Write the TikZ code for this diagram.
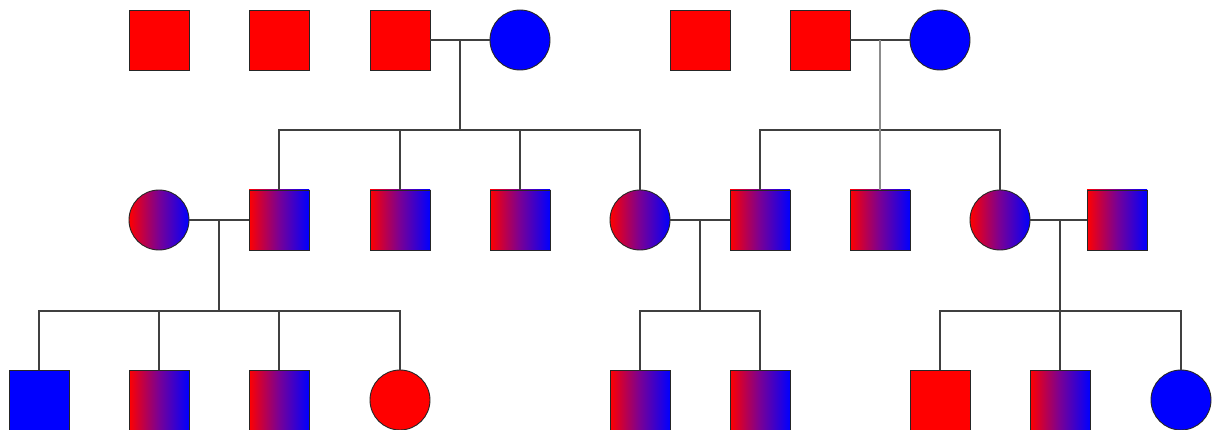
\documentclass[tikz,border=0pt]{standalone}
\begin{document}
\begin{tikzpicture}[x=1pt,y=-1pt,
  base/.style={draw=black!85,line width=0.9pt,inner sep=0pt,minimum size=60pt},
  sq/.style={base,rectangle},
  ci/.style={base,circle},
  red/.style={fill={rgb,255:red,255;green,0;blue,0}},
  blu/.style={fill={rgb,255:red,0;green,0;blue,255}},
  grad/.style={left color={rgb,255:red,255;green,0;blue,0},right color={rgb,255:red,0;green,0;blue,255},middle color={rgb,255:red,120;green,0;blue,150}},
  link/.style={draw=black!75,line width=1.4pt},
  glink/.style={draw=black!45,line width=1.6pt}]
\useasboundingbox (0,0) rectangle (1213,430);
% row 1
\node[sq,red] (a1) at (159,40) {};
\node[sq,red] (a2) at (279,40) {};
\node[sq,red] (a3) at (400,40) {};
\node[ci,blu] (a4) at (520,40) {};
\node[sq,red] (a5) at (700,40) {};
\node[sq,red] (a6) at (820,40) {};
\node[ci,blu] (a7) at (940,40) {};
% row 2
\node[ci,grad] (b1) at (159,220) {};
\node[sq,grad] (b2) at (279,220) {};
\node[sq,grad] (b3) at (400,220) {};
\node[sq,grad] (b4) at (520,220) {};
\node[ci,grad] (b5) at (640,220) {};
\node[sq,grad] (b6) at (760,220) {};
\node[sq,grad] (b7) at (880,220) {};
\node[ci,grad] (b8) at (1000,220) {};
\node[sq,grad] (b9) at (1117,220) {};
% row 3
\node[sq,blu] (c1) at (39,400) {};
\node[sq,grad] (c2) at (159,400) {};
\node[sq,grad] (c3) at (279,400) {};
\node[ci,red] (c4) at (400,400) {};
\node[sq,grad] (c5) at (640,400) {};
\node[sq,grad] (c6) at (760,400) {};
\node[sq,red] (c7) at (940,400) {};
\node[sq,grad] (c8) at (1060,400) {};
\node[ci,blu] (c9) at (1181,400) {};
% coordinates
\coordinate (m1) at (460,40);
\coordinate (s1) at (460,130);
\coordinate (m2) at (880,40);
\coordinate (s2) at (880,130);
\coordinate (m3) at (219,220);
\coordinate (s3) at (219,311);
\coordinate (m4) at (700,220);
\coordinate (s4) at (700,311);
\coordinate (m5) at (1060,220);
\coordinate (s5) at (1060,311);
% family 1
\draw[link] (a3.east) -- (a4.west);
\draw[link] (m1) -- (s1);
\draw[link] (s1) -| (b2.north);
\draw[link] (s1) -| (b3.north);
\draw[link] (s1) -| (b4.north);
\draw[link] (s1) -| (b5.north);
% family 2
\draw[link] (a6.east) -- (a7.west);
\draw[link] (s2) -| (b6.north);
\draw[link] (s2) -| (b8.north);
\draw[glink] (m2) -- (b7.north);
% family 3
\draw[link] (b1.east) -- (b2.west);
\draw[link] (m3) -- (s3);
\draw[link] (s3) -| (c1.north);
\draw[link] (s3) -| (c2.north);
\draw[link] (s3) -| (c3.north);
\draw[link] (s3) -| (c4.north);
% family 4
\draw[link] (b5.east) -- (b6.west);
\draw[link] (m4) -- (s4);
\draw[link] (s4) -| (c5.north);
\draw[link] (s4) -| (c6.north);
% family 5
\draw[link] (b8.east) -- (b9.west);
\draw[link] (m5) -- (s5);
\draw[link] (s5) -| (c7.north);
\draw[link] (s5) -| (c8.north);
\draw[link] (s5) -| (c9.north);
\end{tikzpicture}
\end{document}
